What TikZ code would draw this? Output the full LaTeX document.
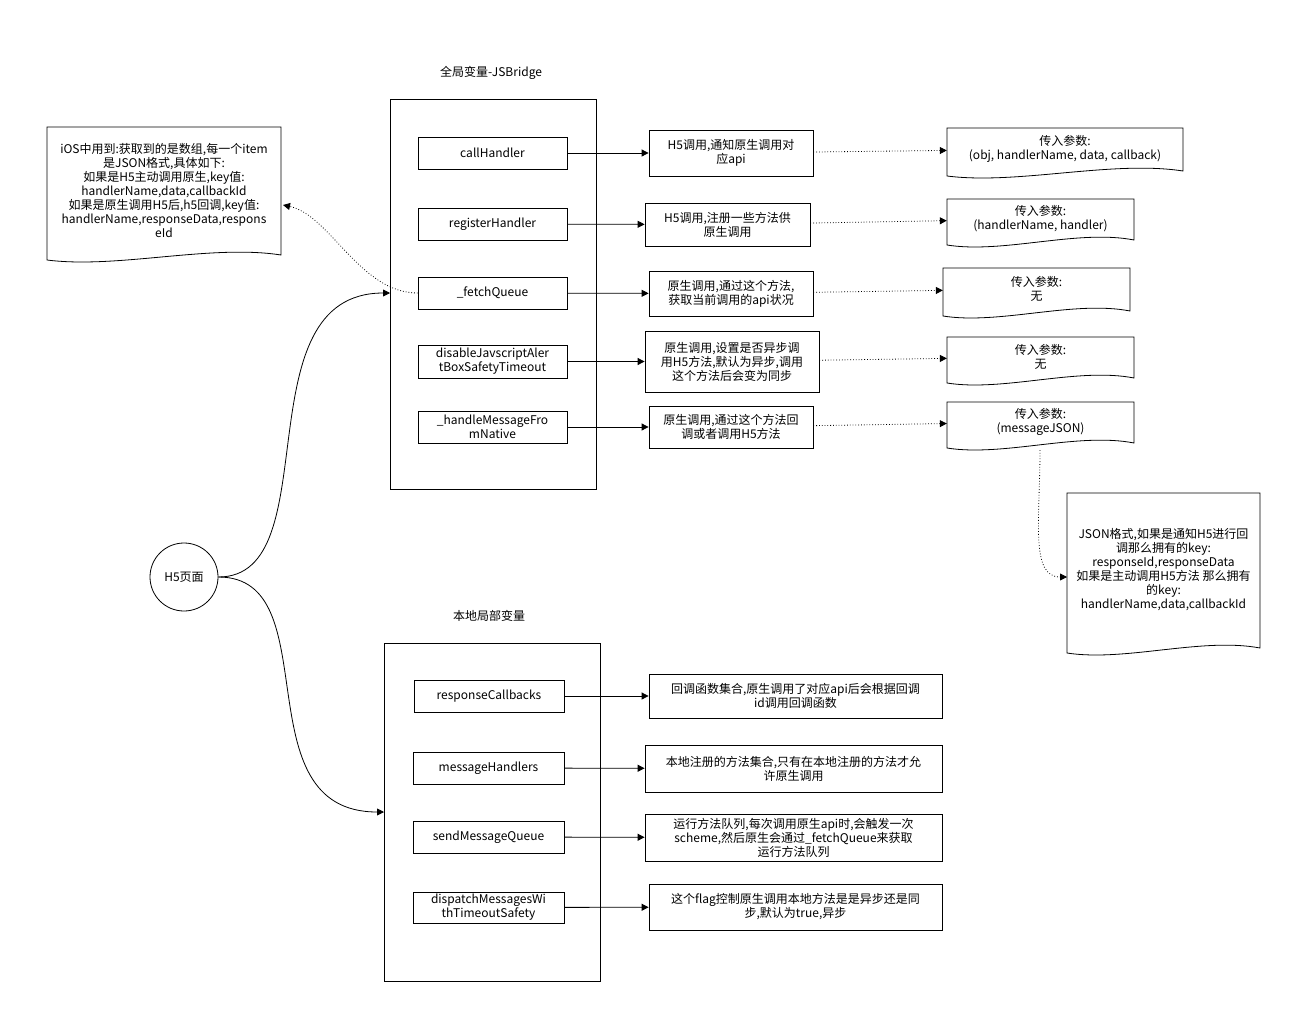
\documentclass[tikz,border=0pt]{standalone}
\usepackage{fontspec}
\setmainfont{Noto Sans CJK SC}
\usetikzlibrary{arrows.meta}

\tikzset{
    box/.style={draw, thick, inner sep=0pt, align=center, font=\fontsize{12}{14}\selectfont},
    doctext/.style={inner sep=0pt, align=center, font=\fontsize{12}{14}\selectfont},
    solidarrow/.style={thick, -{Triangle[length=7pt,width=7pt]}},
    dotarrow/.style={thick, dotted, -{Triangle[length=7pt,width=7pt]}}
}

% document shape: name, x1, y1, x2, y2, text
\newcommand{\wavedoc}[6]{%
    \node[doctext, minimum width={#4-#2}, minimum height={#5-#3}] (#1) at ({(#2+#4)/2},{(#3+#5)/2-4}) {#6};
    \draw[thick] (#2,#3) -- (#4,#3) -- (#4,{#5-7})
        .. controls ({#2+0.7*(#4-#2)},{#5-18}) and ({#2+0.3*(#4-#2)},{#5+7}) .. (#2,{#5-2}) -- cycle;
}

\begin{document}
\begin{tikzpicture}[x=1pt, y=-1pt]
    \useasboundingbox[fill=white] (0,0) rectangle (1292,1012);

    % top group
    \node[doctext] (title1) at (491,73) {全局变量-JSBridge};
    \draw[thick] (390,99) rectangle (596,489);
    \coordinate (grp1) at (390,293);

    \node[box, minimum width=149, minimum height=32] (callH) at (492.5,153) {callHandler};
    \node[box, minimum width=149, minimum height=32] (regH) at (492.5,224) {registerHandler};
    \node[box, minimum width=149, minimum height=32] (fetchQ) at (492.5,293) {\_fetchQueue};
    \node[box, minimum width=149, minimum height=33] (disJ) at (492.5,361.5) {disableJavscriptAler\\tBoxSafetyTimeout};
    \node[box, minimum width=149, minimum height=32] (handM) at (492.5,427) {\_handleMessageFro\\mNative};

    \node[box, minimum width=164, minimum height=46] (callD) at (731,153) {H5调用,通知原生调用对\\应api};
    \node[box, minimum width=165, minimum height=43] (regD) at (727.5,224.5) {H5调用,注册一些方法供\\原生调用};
    \node[box, minimum width=164, minimum height=45] (fetchD) at (731,293.5) {原生调用,通过这个方法,\\获取当前调用的api状况};
    \node[box, minimum width=174, minimum height=61] (disD) at (732,361.5) {原生调用,设置是否异步调\\用H5方法,默认为异步,调用\\这个方法后会变为同步};
    \node[box, minimum width=164, minimum height=42] (handD) at (731,427) {原生调用,通过这个方法回\\调或者调用H5方法};

    \wavedoc{callP}{947}{128}{1183}{178}{传入参数:\\(obj, handlerName, data, callback)}
    \wavedoc{regP}{947}{199}{1134}{247}{传入参数:\\(handlerName, handler)}
    \wavedoc{fetchP}{943}{268}{1130}{318}{传入参数:\\无}
    \wavedoc{disP}{947}{337}{1134}{385}{传入参数:\\无}
    \wavedoc{handP}{947}{402}{1134}{450}{传入参数:\\(messageJSON)}
    \wavedoc{jsonP}{1067}{493}{1260}{655}{JSON格式,如果是通知H5进行回\\调那么拥有的key:\\responseId,responseData\\如果是主动调用H5方法 那么拥有\\的key:\\handlerName,data,callbackId}
    \wavedoc{iosP}{47}{127}{281}{262}{iOS中用到:获取到的是数组,每一个item\\是JSON格式,具体如下:\\如果是H5主动调用原生,key值:\\handlerName,data,callbackId\\如果是原生调用H5后,h5回调,key值:\\handlerName,responseData,respons\\eId}

    \foreach \a/\b in {callH/callD, regH/regD, fetchQ/fetchD, disJ/disD, handM/handD}
        \draw[solidarrow] (\a) -- (\b);
    \foreach \a/\b in {callD/callP, regD/regP, fetchD/fetchP, disD/disP, handD/handP}
        \draw[dotarrow] (\a) -- (\b);

    \coordinate (iosIn) at (283,205);
    \draw[dotarrow] (fetchQ.west) .. controls (360,293) and (330,215) .. (iosIn);
    \coordinate (jsonIn) at (1067,577);
    \draw[dotarrow] (1040,450) .. controls (1040,520) and (1030,577) .. (jsonIn);

    % H5 page
    \node[draw, thick, circle, minimum size=68, inner sep=0pt, font=\fontsize{12}{14}\selectfont] (h5) at (184,577) {H5页面};

    % bottom group
    \node[doctext] (title2) at (489,616) {本地局部变量};
    \draw[thick] (384,643) rectangle (600,981);
    \coordinate (grp2) at (384,812);

    \draw[solidarrow] (h5.east) .. controls (330,577) and (240,293) .. (grp1);
    \draw[solidarrow] (h5.east) .. controls (330,577) and (240,812) .. (grp2);

    \node[box, minimum width=150, minimum height=32] (respC) at (489,696) {responseCallbacks};
    \node[box, minimum width=151, minimum height=32] (msgH) at (488.5,768) {messageHandlers};
    \node[box, minimum width=151, minimum height=32] (sendQ) at (488.5,837) {sendMessageQueue};
    \node[box, minimum width=151, minimum height=31] (dispM) at (488.5,907.5) {dispatchMessagesWi\\thTimeoutSafety};

    \node[box, minimum width=293, minimum height=44] (respD) at (795.5,696) {回调函数集合,原生调用了对应api后会根据回调\\id调用回调函数};
    \node[box, minimum width=297, minimum height=47] (msgD) at (793.5,768.5) {本地注册的方法集合,只有在本地注册的方法才允\\许原生调用};
    \node[box, minimum width=297, minimum height=47] (sendD) at (793.5,837.5) {运行方法队列,每次调用原生api时,会触发一次\\scheme,然后原生会通过\_fetchQueue来获取\\运行方法队列};
    \node[box, minimum width=293, minimum height=46] (dispD) at (795.5,907) {这个flag控制原生调用本地方法是是异步还是同\\步,默认为true,异步};

    \foreach \a/\b in {respC/respD, msgH/msgD, sendQ/sendD, dispM/dispD}
        \draw[solidarrow] (\a) -- (\b);
\end{tikzpicture}
\end{document}
